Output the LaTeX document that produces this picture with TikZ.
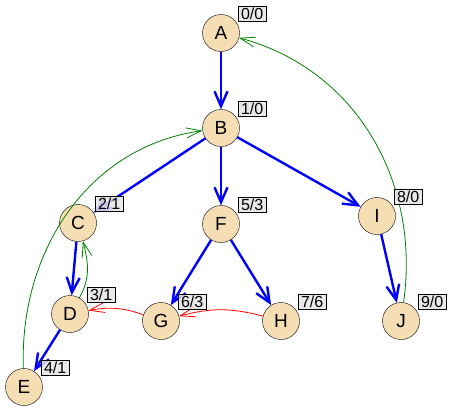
\documentclass[tikz,border=0pt]{standalone}
\usepackage{fontspec}
\setmainfont{Liberation Sans}
\usetikzlibrary{arrows.meta,positioning}
\definecolor{wheat}{RGB}{245,222,179}

\begin{document}
\begin{tikzpicture}[x=1pt,y=-1pt,
        vertex/.style={circle,draw,fill=wheat,minimum size=37pt,inner sep=0pt,font=\fontsize{19}{19}\selectfont},
        tag/.style={draw,fill=gray!20,fill opacity=.85,text opacity=1,inner xsep=2.6pt,inner ysep=2pt,anchor=south west,font=\fontsize{16}{16}\selectfont},
        tree/.style={blue,line width=2.4pt,-{Straight Barb[length=15pt,width=13pt]}},
        back/.style={green!50!black,line width=.8pt,-{Straight Barb[length=15pt,width=10pt]}},
        cross/.style={red,line width=.8pt,-{Straight Barb[length=15pt,width=10pt]}}]
        \useasboundingbox (0,0) rectangle (452,415);

        \node[vertex] (A) at (221,33) {A};
        \node[vertex] (B) at (221,128) {B};
        \node[vertex] (C) at (78,223) {C};
        \node[vertex] (D) at (70,314) {D};
        \node[vertex] (E) at (24,387) {E};
        \node[vertex] (F) at (221,224) {F};
        \node[vertex] (G) at (161,321) {G};
        \node[vertex] (H) at (281,321) {H};
        \node[vertex] (I) at (377,216) {I};
        \node[vertex] (J) at (401,321) {J};

        % tree edges
        \draw[tree] (A) -- (B);
        \draw[tree] (B) -- (C);
        \draw[tree] (B) -- (F);
        \draw[tree] (B) -- (I);
        \draw[tree] (C) -- (D);
        \draw[tree] (D) -- (E);
        \draw[tree] (F) -- (G);
        \draw[tree] (F) -- (H);
        \draw[tree] (I) -- (J);

        % back edges
        \draw[back] (E) to[out=92,in=188] (B);
        \draw[back] (D) to[out=60,in=-75] (C);
        \draw[back] (J) to[out=82,in=-15] (A);

        % cross edges
        \draw[cross] (H) to[bend right=15] (G);
        \draw[cross] (G) to[bend right=15] (D);

        % discovery/low tags
        \foreach \v/\d/\l in {A/0/0,B/1/0,C/2/1,D/3/1,E/4/1,F/5/3,G/6/3,H/7/6,I/8/0,J/9/0}
            \node[tag] (t\v) at ([xshift=4pt,yshift=-2pt]\v.north east) {\d/\l};
    \end{tikzpicture}
\end{document}
